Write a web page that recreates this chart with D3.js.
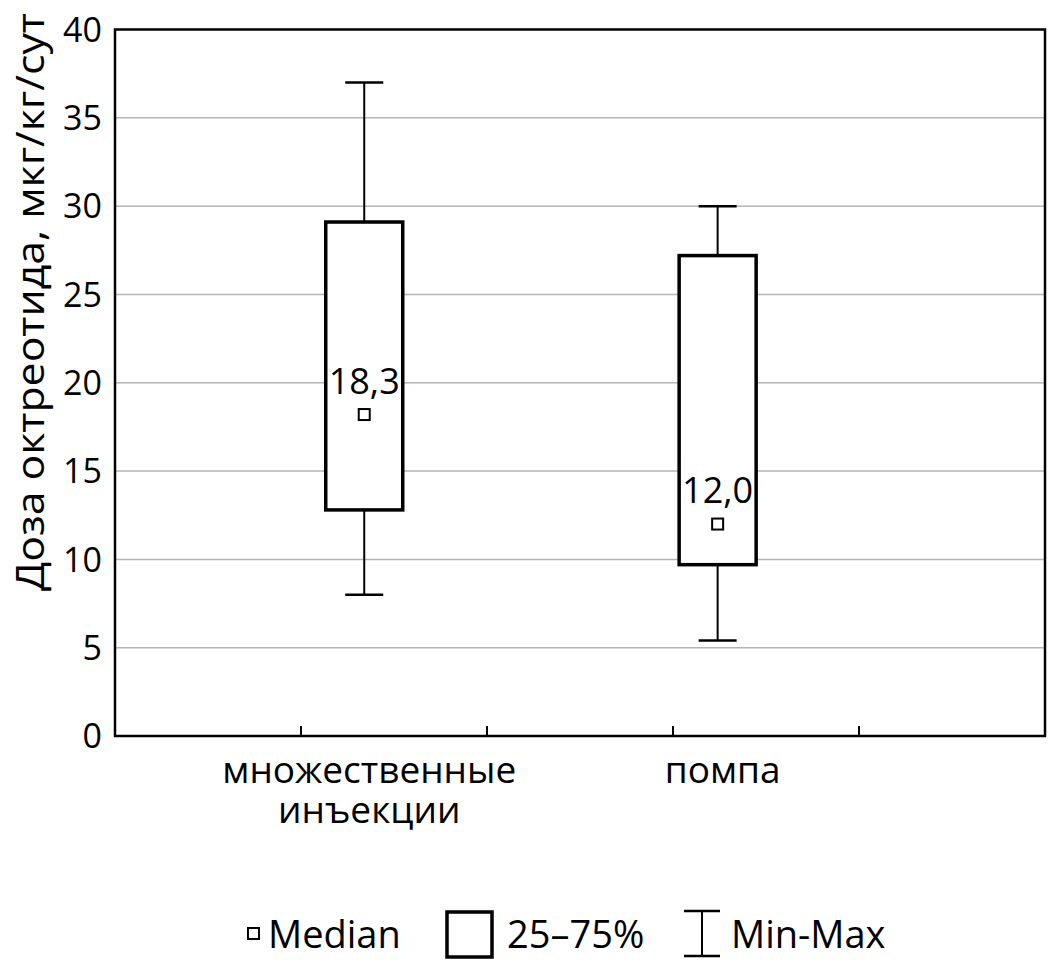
<!DOCTYPE html>
<html>
<head>
<meta charset="utf-8">
<script src="https://cdn.jsdelivr.net/npm/d3@7/dist/d3.min.js"></script>
<style>
  html, body { margin: 0; padding: 0; background: #fff; }
  svg text { font-family: "Open Sans", "Noto Sans", sans-serif; fill: #000; }
</style>
</head>
<body>
<svg id="chart" width="1048" height="963"></svg>
<script>
/*  Data  */
const categories = [["множественные", "инъекции"], ["помпа"]];
const catPos     = [1.34, 3.24];          // position along the 0..5 category axis
const q1         = [12.8, 9.7];
const q3         = [29.1, 27.2];
const mins       = [8.0, 5.4];
const maxs       = [37.0, 30.0];
const medians    = [18.2, 12.0];
const medianText = ["18,3", "12,0"];
const yTicks     = [0, 5, 10, 15, 20, 25, 30, 35, 40];
const xTicks     = [1, 2, 3, 4];

/*  Dimensions  */
const margin = {top: 29.5, right: 3, bottom: 227, left: 115},
      width  = 1048 - margin.left - margin.right,
      height = 963 - margin.top - margin.bottom;

const root = d3.select("#chart");
const svg = root.append("g")
  .attr("transform", `translate(${margin.left},${margin.top})`);

const xScale = d3.scaleLinear().domain([0, 5]).range([0, width]);
const yScale = d3.scaleLinear().domain([0, 40]).range([height, 0]);

/* grid */
svg.selectAll(".grid").data(yTicks.filter(d => d > 0 && d < 40)).join("line")
  .attr("class", "grid")
  .attr("x1", 0).attr("x2", width)
  .attr("y1", d => yScale(d)).attr("y2", d => yScale(d))
  .attr("stroke", "#b4b4b4").attr("stroke-width", 1.5);

/* y tick labels */
svg.selectAll(".ylab").data(yTicks).join("text")
  .attr("class", "ylab")
  .attr("x", -13)
  .attr("y", d => yScale(d))
  .attr("dy", "0.36em")
  .attr("text-anchor", "end")
  .style("font-size", "34px")
  .text(d => d);

/* x tick marks (inward) */
svg.selectAll(".xtick").data(xTicks).join("line")
  .attr("class", "xtick")
  .attr("x1", d => xScale(d)).attr("x2", d => xScale(d))
  .attr("y1", height).attr("y2", height - 10)
  .attr("stroke", "#000").attr("stroke-width", 2);

/* frame */
svg.append("rect")
  .attr("x", 0).attr("y", 0).attr("width", width).attr("height", height)
  .attr("fill", "none").attr("stroke", "#000").attr("stroke-width", 2.5);

/* boxes */
const boxW = 77, capW = 38, medS = 11;
const groups = svg.selectAll(".grp").data(categories).join("g").attr("class", "grp");

groups.each(function(cat, i) {
  const g = d3.select(this);
  const cx = xScale(catPos[i]);
  // whiskers
  g.append("line")
    .attr("x1", cx).attr("x2", cx)
    .attr("y1", yScale(maxs[i])).attr("y2", yScale(q3[i]))
    .attr("stroke", "#000").attr("stroke-width", 2);
  g.append("line")
    .attr("x1", cx).attr("x2", cx)
    .attr("y1", yScale(q1[i])).attr("y2", yScale(mins[i]))
    .attr("stroke", "#000").attr("stroke-width", 2);
  [maxs[i], mins[i]].forEach(v => {
    g.append("line")
      .attr("x1", cx - capW / 2).attr("x2", cx + capW / 2)
      .attr("y1", yScale(v)).attr("y2", yScale(v))
      .attr("stroke", "#000").attr("stroke-width", 2.5);
  });
  // box
  g.append("rect")
    .attr("x", cx - boxW / 2).attr("width", boxW)
    .attr("y", yScale(q3[i])).attr("height", yScale(q1[i]) - yScale(q3[i]))
    .attr("fill", "#fff").attr("stroke", "#000").attr("stroke-width", 3.5);
  // median
  g.append("rect")
    .attr("x", cx - medS / 2).attr("y", yScale(medians[i]) - medS / 2)
    .attr("width", medS).attr("height", medS)
    .attr("fill", "#fff").attr("stroke", "#000").attr("stroke-width", 2);
  g.append("text")
    .attr("x", cx)
    .attr("y", yScale(medians[i]) - 21)
    .attr("text-anchor", "middle")
    .style("font-size", "36px")
    .text(medianText[i]);
  // category label, one text per line
  cat.forEach((line, k) => {
    g.append("text")
      .attr("x", cx + 5)
      .attr("y", height + 47 + k * 40)
      .attr("text-anchor", "middle")
      .style("font-size", "37px")
      .text(line);
  });
});

/* y axis title */
root.append("text")
  .attr("transform", "translate(44,302) rotate(-90)")
  .attr("text-anchor", "middle")
  .attr("textLength", 578)
  .attr("lengthAdjust", "spacingAndGlyphs")
  .style("font-size", "39px")
  .text("Доза октреотида, мкг/кг/сут");

/* legend */
const leg = root.append("g").attr("transform", "translate(0,934)");
leg.append("rect")
  .attr("x", 248).attr("y", -6).attr("width", 11).attr("height", 11)
  .attr("fill", "#fff").attr("stroke", "#000").attr("stroke-width", 2);
leg.append("text").attr("x", 268).attr("y", 14).style("font-size", "38px").text("Median");
leg.append("rect")
  .attr("x", 447).attr("y", -22).attr("width", 45).attr("height", 45)
  .attr("fill", "#fff").attr("stroke", "#000").attr("stroke-width", 3.5);
leg.append("text").attr("x", 507).attr("y", 14).style("font-size", "38px").text("25–75%");
leg.append("line").attr("x1", 702).attr("x2", 702).attr("y1", -23).attr("y2", 22)
  .attr("stroke", "#000").attr("stroke-width", 2);
[-23, 22].forEach(y => leg.append("line")
  .attr("x1", 684).attr("x2", 720).attr("y1", y).attr("y2", y)
  .attr("stroke", "#000").attr("stroke-width", 2.5));
leg.append("text").attr("x", 731).attr("y", 14).style("font-size", "38px").text("Min-Max");
</script>
</body>
</html>
